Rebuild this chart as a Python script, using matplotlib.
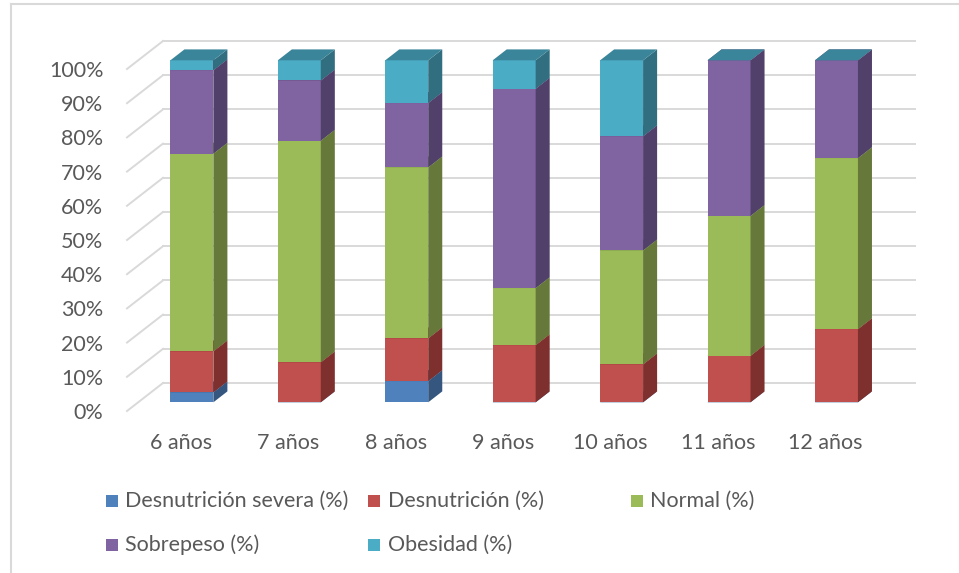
import matplotlib
matplotlib.use("Agg")
import matplotlib.pyplot as plt
from matplotlib.patches import Polygon, Rectangle
from matplotlib.lines import Line2D
import numpy as np

# ---------------- data ----------------
categories = ["6 años", "7 años", "8 años", "9 años", "10 años", "11 años", "12 años"]
series_names = ["Desnutrición severa (%)", "Desnutrición (%)", "Normal (%)",
                "Sobrepeso (%)", "Obesidad (%)"]
desnutricion_severa = [2.9, 0.0, 6.2, 0.0, 0.0, 0.0, 0.0]
desnutricion = [12.0, 11.7, 12.5, 16.7, 11.1, 13.6, 21.4]
normal = [57.8, 64.8, 50.0, 16.7, 33.3, 40.9, 50.0]
sobrepeso = [24.4, 17.6, 18.8, 58.3, 33.4, 45.5, 28.6]
obesidad = [2.9, 5.9, 12.5, 8.3, 22.2, 0.0, 0.0]
yticks = list(range(0, 101, 10))
ytick_labels = [f"{v}%" for v in yticks]

# ---------------- style ----------------
front_cols = ["#4F81BD", "#C0504D", "#9BBB59", "#8064A2", "#4BACC6"]
side_cols = ["#35567F", "#7E302E", "#66793A", "#51406A", "#306E80"]
top_cols = ["#3E6796", "#9A3F3D", "#7E9A48", "#675184", "#3A8599"]
grid_col = "#D9D9D9"
text_col = "#595959"
FONT = "Lato"
FS = 15.5

W, H = 959, 573
fig = plt.figure(figsize=(W / 100, H / 100), dpi=100)
fig.patch.set_facecolor("white")

# front plane of the plot area (pixels)
L, R, B, T = 127, 879, 411, 69
ax = fig.add_axes([L / W, 1 - B / H, (R - L) / W, (B - T) / H])
ncat = len(categories)
ax.set_xlim(-0.5, ncat - 0.5)
ax.set_ylim(0, 100)
for s in ax.spines.values():
    s.set_visible(False)
ax.set_facecolor("none")

px_per_x = (R - L) / ncat
px_per_y = (B - T) / 100.0
# full depth vector (pixels -> data units)
DX = 36 / px_per_x
DY = 28 / px_per_y
f0, f1 = 0.31, 0.70
ox, oy = f0 * DX, f0 * DY
dx, dy = (f1 - f0) * DX, (f1 - f0) * DY
BW = 0.40

# gridlines: back wall + left wall diagonals
for v in yticks:
    ax.add_line(Line2D([-0.5 + DX, ncat - 0.5 + DX], [v + DY, v + DY],
                       color=grid_col, lw=1.4, clip_on=False, zorder=0.5))
    ax.add_line(Line2D([-0.5, -0.5 + DX], [v, v + DY],
                       color=grid_col, lw=1.4, clip_on=False, zorder=0.5))

# stacked 3D bars
data = [desnutricion_severa, desnutricion, normal, sobrepeso, obesidad]
x = np.arange(ncat)
bottom = np.zeros(ncat)
for s, vals in enumerate(data):
    vals = np.array(vals, dtype=float)
    z = 2 + s
    bars = ax.bar(x + ox, vals, BW, bottom=bottom + oy, color=front_cols[s],
                  edgecolor="none", zorder=z, clip_on=False, label=series_names[s])
    for i, rect in enumerate(bars):
        xl = rect.get_x()
        xr = xl + rect.get_width()
        y0 = rect.get_y()
        y1 = y0 + rect.get_height()
        side = Polygon([(xr, y0), (xr + dx, y0 + dy), (xr + dx, y1 + dy), (xr, y1)],
                       closed=True, facecolor=side_cols[s], edgecolor="none",
                       zorder=z, clip_on=False)
        top = Polygon([(xl, y1), (xr, y1), (xr + dx, y1 + dy), (xl + dx, y1 + dy)],
                      closed=True, facecolor=top_cols[s], edgecolor="none",
                      zorder=z, clip_on=False)
        ax.add_patch(side)
        ax.add_patch(top)
    bottom = bottom + vals

# ticks
ax.set_yticks(yticks)
ax.set_yticklabels(ytick_labels, fontsize=FS, color=text_col, family=FONT)
ax.set_xticks(x)
ax.set_xticklabels(categories, fontsize=FS, color=text_col, family=FONT)
ax.tick_params(axis="y", length=0, pad=17)
ax.tick_params(axis="x", length=0, pad=16)

# legend (manual, Excel-like fixed columns)
legend_pos = [(106, 125, 501), (368, 388, 501), (631, 650, 501),
              (106, 125, 545), (368, 388, 545)]
for s, (mx, tx, ry) in enumerate(legend_pos):
    fig.patches.append(Rectangle((mx / W, 1 - (ry + 6) / H), 12 / W, 12 / H,
                                 transform=fig.transFigure, facecolor=front_cols[s],
                                 edgecolor="none"))
    fig.text(tx / W, 1 - ry / H, series_names[s], ha="left", va="center",
             fontsize=FS, color=text_col, family=FONT)

# chart-area border (left and top visible)
fig.add_artist(Line2D([11 / W, 11 / W], [0, 1 - 4 / H], transform=fig.transFigure,
                      color=grid_col, lw=1.5))
fig.add_artist(Line2D([11 / W, 1], [1 - 4 / H, 1 - 4 / H], transform=fig.transFigure,
                      color=grid_col, lw=1.5))

fig.savefig("out.png", dpi=100, facecolor="white")
